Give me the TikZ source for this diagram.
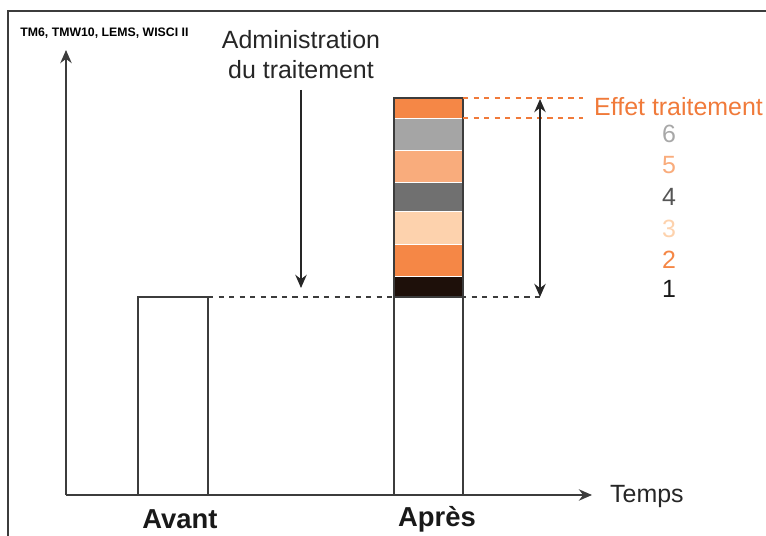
\documentclass[tikz,border=0pt]{standalone}
\usepackage{fontspec}
\setmainfont{Liberation Sans}
\usepackage{xcolor}
\usetikzlibrary{arrows.meta}
\definecolor{linegray}{RGB}{60,60,60}
\definecolor{effetorange}{RGB}{240,122,58}
\definecolor{segone}{RGB}{30,16,10}
\definecolor{segtwo}{RGB}{245,135,70}
\definecolor{segthree}{RGB}{253,210,173}
\definecolor{segfour}{RGB}{112,112,112}
\definecolor{segfive}{RGB}{249,172,124}
\definecolor{segsix}{RGB}{165,165,165}
\definecolor{numsix}{RGB}{168,168,168}
\definecolor{numfour}{RGB}{85,85,85}

\begin{document}
\begin{tikzpicture}[x=0.02cm, y=-0.02cm, >={Stealth[length=7.5pt,width=6.5pt]}]
    % Define styles
    \tikzstyle{axis} = [line width=0.9pt, draw=linegray, ->]
    \tikzstyle{bar} = [line width=0.9pt, draw=linegray]
    \tikzstyle{arrow} = [line width=0.9pt, draw=black!85, ->]
    \tikzstyle{guide} = [line width=0.8pt, draw=linegray, dashed]
    \tikzstyle{effetguide} = [line width=0.8pt, draw=effetorange, dashed]
    \tikzstyle{label} = [font=\fontsize{14.2}{17}\selectfont, text=black!85]
    \tikzstyle{period} = [font=\fontsize{15.6}{18}\selectfont\bfseries, text=black!90]
    \tikzstyle{number} = [font=\fontsize{14.2}{17}\selectfont]

    \useasboundingbox (0,0) rectangle (766,536);

    % Frame
    \draw[line width=1pt, linegray] (8,536) -- (8,11) -- (766,11);

    % Coordinates
    \coordinate (origin) at (66,495);
    \coordinate (ytip) at (66,50);
    \coordinate (xtip) at (592,495);
    \coordinate (avanttop) at (208,297);
    \coordinate (basemark) at (540,297);
    \coordinate (topmark) at (540,99);
    \coordinate (stacktop) at (463,98);
    \coordinate (stackline) at (463,118);
    \coordinate (effettop) at (583,98);
    \coordinate (effetline) at (583,118);
    \coordinate (adminend) at (301,288);

    % Stack of effects
    \foreach \ya/\yb/\col in {297/277/segone, 276/245/segtwo, 244/212/segthree,
        211/183/segfour, 182/151/segfive, 150/119/segsix, 118/98/segtwo}
        \fill[\col] (394,\ya) rectangle (463,\yb);
    \foreach \y in {276.5,244.5,211.5,182.5,150.5,118.5}
        \draw[white, line width=0.8pt] (395,\y) -- (462,\y);

    % Bars
    \draw[bar] (138,495) rectangle (208,297);
    \draw[bar] (394,495) rectangle (463,98);
    \draw[bar] (394,297) -- (463,297);

    % Axes
    \draw[axis] (origin) -- (ytip);
    \draw[axis] (origin) -- (xtip);

    % Texts
    \node (ylabel) [anchor=west, font=\fontsize{7}{8}\selectfont\bfseries, inner sep=0pt] at (20,33) {TM6, TMW10, LEMS, WISCI II};
    \node (admin) [label, align=center] at (301,55) {Administration\\du traitement};
    \node (temps) [label, anchor=west] at (604,497) {Temps};
    \node (avant) [period] at (180,519) {Avant};
    \node (apres) [period] at (437,519) {Après};
    \node (effet) [label, anchor=west, text=effetorange] at (588,107) {Effet traitement};
    \node (six) [number, text=numsix] at (669,134) {6};
    \node (five) [number, text=segfive] at (669,165) {5};
    \node (four) [number, text=numfour] at (669,197) {4};
    \node (three) [number, text=segthree] at (669,229) {3};
    \node (two) [number, text=segtwo] at (669,260) {2};
    \node (one) [number, text=black!90] at (669,289) {1};

    % Guides
    \draw [guide] (avanttop) -- (basemark);
    \draw [effetguide] (stacktop) -- (effettop);
    \draw [effetguide] (stackline) -- (effetline);

    % Arrows
    \draw [arrow] (admin.south |- 0,90) -- (adminend);
    \draw [arrow, <->] (topmark) -- (basemark);
\end{tikzpicture}
\end{document}
